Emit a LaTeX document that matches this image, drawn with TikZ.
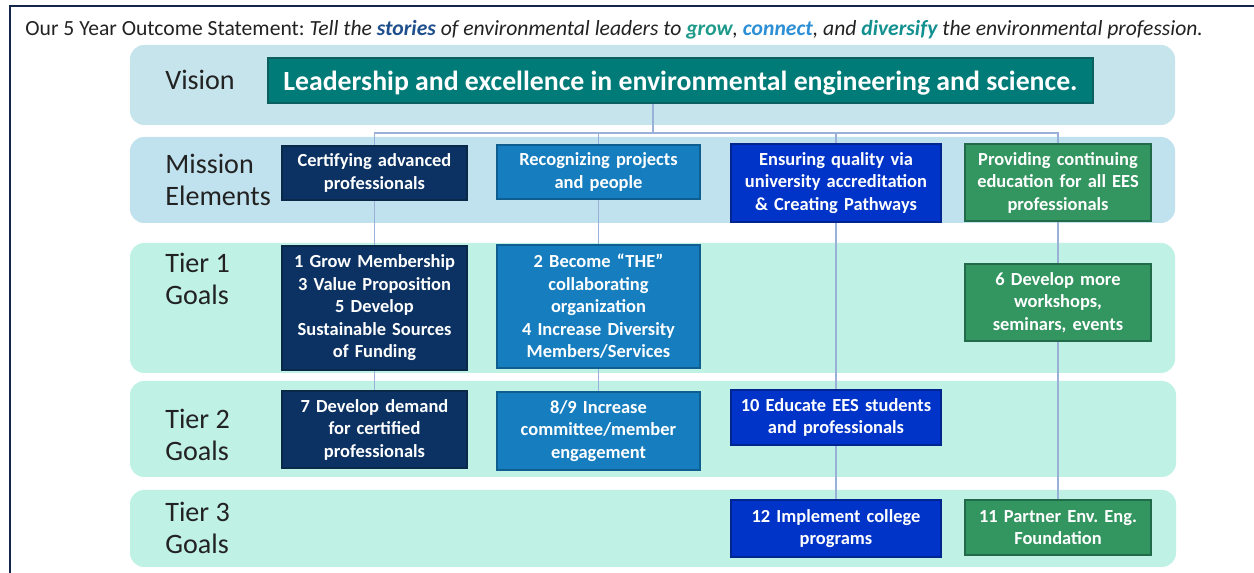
\documentclass[tikz,border=0pt]{standalone}
\usepackage{fontspec}
\setmainfont{Carlito}
\frenchspacing
\pgfdeclarelayer{band}
\pgfdeclarelayer{wire}
\pgfsetlayers{band,wire,main}

\definecolor{framenavy}{HTML}{14264A}
\definecolor{visband}{HTML}{C6E4EC}
\definecolor{misband}{HTML}{C0E2EF}
\definecolor{tierband}{HTML}{BFF1E4}
\definecolor{tealfill}{HTML}{007B78}
\definecolor{tealline}{HTML}{0B5F5E}
\definecolor{navyfill}{HTML}{0B3262}
\definecolor{navyline}{HTML}{0A2848}
\definecolor{bluefill}{HTML}{167EBF}
\definecolor{blueline}{HTML}{0F5E90}
\definecolor{royalfill}{HTML}{0033C8}
\definecolor{royalline}{HTML}{002490}
\definecolor{greenfill}{HTML}{33955F}
\definecolor{greenline}{HTML}{216A4A}
\definecolor{linkblue}{HTML}{9AB0D8}
\definecolor{labelgray}{HTML}{222222}
\definecolor{storyblue}{HTML}{1F4E8C}
\definecolor{growgreen}{HTML}{1E9A8A}
\definecolor{connectblue}{HTML}{2D8FD5}
\definecolor{diversteal}{HTML}{12908F}

\begin{document}
\begin{tikzpicture}[x=0.02cm,y=-0.02cm,
  goalbox/.style={draw,line width=0.8pt,text=white,align=center,inner sep=0pt,
    font=\bfseries\fontsize{10.5}{12.8}\selectfont},
  navybox/.style={goalbox,fill=navyfill,draw=navyline},
  bluebox/.style={goalbox,fill=bluefill,draw=blueline},
  royalbox/.style={goalbox,fill=royalfill,draw=royalline},
  greenbox/.style={goalbox,fill=greenfill,draw=greenline},
  colA/.style={minimum width=3.7cm,text width=3.5cm},
  colB/.style={minimum width=4.06cm,text width=3.86cm},
  colC/.style={minimum width=4.2cm,text width=4.0cm},
  colD/.style={minimum width=3.72cm,text width=3.52cm},
  tierlabel/.style={anchor=west,align=left,inner sep=0pt,text=labelgray,font=\fontsize{16}{18.7}\selectfont},
  link/.style={draw=linkblue,line width=0.6pt}]

\useasboundingbox (0,0) rectangle (1254,573);
\draw[framenavy,line width=1.2pt] (10,573) -- (10,6) -- (1254,6);

\node[anchor=base west,inner sep=0pt,text=labelgray,font=\fontsize{12.3}{14}\selectfont](title) at (25,36)
  {Our 5 Year Outcome Statement: \textit{Tell the \textbf{\color{storyblue}stories} of environmental leaders to \textbf{\color{growgreen}grow}, \textbf{\color{connectblue}connect}, and \textbf{\color{diversteal}diversify} the environmental profession.}};

\begin{pgfonlayer}{band}
\fill[visband,rounded corners=8pt] (130,45) rectangle (1175,125);
\fill[misband,rounded corners=8pt] (130,137) rectangle (1175,223);
\fill[tierband,rounded corners=8pt] (130,243) rectangle (1175,373);
\fill[tierband,rounded corners=8pt] (130,381) rectangle (1176,477);
\fill[tierband,rounded corners=8pt] (130,490) rectangle (1176,567);
\end{pgfonlayer}

\node[tierlabel](lvis) at (165,80){Vision};
\node[tierlabel](lmis) at (165,180){Mission\\Elements};
\node[tierlabel](ltone) at (165,279){Tier 1\\Goals};
\node[tierlabel](lttwo) at (165,435){Tier 2\\Goals};
\node[tierlabel](ltthree) at (165,528){Tier 3\\Goals};

\node[draw=tealline,fill=tealfill,line width=0.8pt,text=white,inner sep=0pt,
  minimum width=16.5cm,minimum height=0.9cm,text height=12pt,text depth=1pt,
  font=\bfseries\fontsize{15.8}{18}\selectfont](vis)
  at (680.5,80.5){Leadership and excellence in environmental engineering and science.};

\node[navybox,colA,minimum height=1.08cm](m1) at (374.5,173){Certifying advanced\\professionals};
\node[bluebox,colB,minimum height=1.08cm](m2) at (598.5,172){Recognizing projects\\and people};
\node[royalbox,colC,minimum height=1.56cm](m3) at (836,183){Ensuring quality via\\university accreditation\\\& Creating Pathways};
\node[greenbox,colD,minimum height=1.54cm](m4) at (1058,182.5){Providing continuing\\education for all EES\\professionals};

\node[navybox,colA,minimum height=2.48cm](t1a) at (374.5,308){1 Grow Membership\\3 Value Proposition\\5 Develop\\Sustainable Sources\\of Funding};
\node[bluebox,colB,minimum height=2.46cm](t1b) at (598.5,306.5){2 Become “THE”\\collaborating\\organization\\4 Increase Diversity\\Members/Services};
\node[greenbox,colD,minimum height=1.54cm](t1d) at (1058,302.5){6 Develop more\\workshops,\\seminars, events};

\node[navybox,colA,minimum height=1.54cm](t2a) at (374.5,429.5){7 Develop demand\\for certified\\professionals};
\node[bluebox,colB,minimum height=1.56cm](t2b) at (598.5,431){8/9 Increase\\committee/member\\engagement};
\node[royalbox,colC,minimum height=1.1cm](t2c) at (836,417.5){10 Educate EES students\\and professionals};

\node[royalbox,colC,minimum height=1.14cm](t3c) at (836,528.5){12 Implement college\\programs};
\node[greenbox,colD,minimum height=1.1cm](t3d) at (1058,527.5){11 Partner Env. Eng.\\Foundation};

\coordinate (hub) at (653,133);
\begin{pgfonlayer}{wire}
\path[link] (vis.south -| hub) -- (hub)
  (hub) -| (t2a.north)
  (hub) -| (t2b.north)
  (hub) -| (t3c.north)
  (hub) -| (t3d.north);
\end{pgfonlayer}

\end{tikzpicture}
\end{document}
